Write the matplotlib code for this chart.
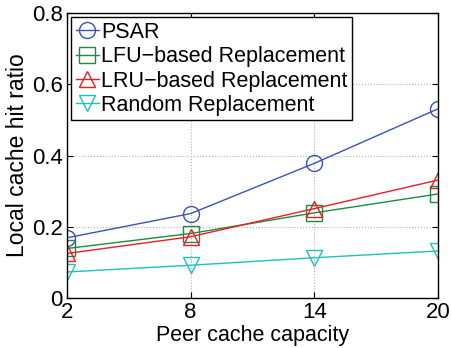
import matplotlib
matplotlib.use("Agg")
import matplotlib.pyplot as plt

plt.rcParams['font.family'] = ['Liberation Sans', 'DejaVu Sans']

capacity = [2, 8, 14, 20]
psar = [0.169, 0.237, 0.378, 0.531]
lfu = [0.139, 0.181, 0.239, 0.292]
lru = [0.125, 0.172, 0.251, 0.331]
rand = [0.073, 0.092, 0.113, 0.132]
labels = ['PSAR', 'LFU\u2212based Replacement', 'LRU\u2212based Replacement', 'Random Replacement']

fig = plt.figure(figsize=(4.52, 3.48), dpi=100)
ax = fig.add_axes([67/452, 1-298/348, (438-67)/452, (298-13)/348])

styles = [
    (psar, '#3a53b0', 'o'),
    (lfu, '#1e8a3e', 's'),
    (lru, '#ee1c24', '^'),
    (rand, '#1fc0c0', 'v'),
]
for (vals, c, m), lab in zip(styles, labels):
    ax.plot(capacity, vals, color=c, marker=m, markersize=11.5, markerfacecolor='none',
            markeredgecolor=c, markeredgewidth=1.0, linewidth=1.0, label=lab)

ax.set_xlim(2, 20)
ax.set_ylim(0, 0.8)
ax.set_xticks(capacity)
ax.set_xticklabels(['2', '8', '14', '20'])
ax.set_yticks([0, 0.2, 0.4, 0.6, 0.8])
ax.set_yticklabels(['0', '0.2', '0.4', '0.6', '0.8'])
ax.grid(True, linestyle=':', color='#b0b0b0', linewidth=0.8)
ax.tick_params(direction='in', labelsize=16, length=4, pad=3, top=True, right=True)
for s in ax.spines.values():
    s.set_linewidth(1.0)
ax.set_xlabel('Peer cache capacity', fontsize=15.5, labelpad=1)
ax.set_ylabel('Local cache hit ratio', fontsize=16.5, labelpad=2)

leg = ax.legend(loc='upper left', fontsize=15.5, frameon=True, fancybox=False,
                edgecolor='black', framealpha=1, handlelength=1.1, handletextpad=0.1,
                borderpad=0.2, labelspacing=0.16, borderaxespad=0.2)
leg.get_frame().set_linewidth(1.0)

fig.savefig('out.png', dpi=100)
